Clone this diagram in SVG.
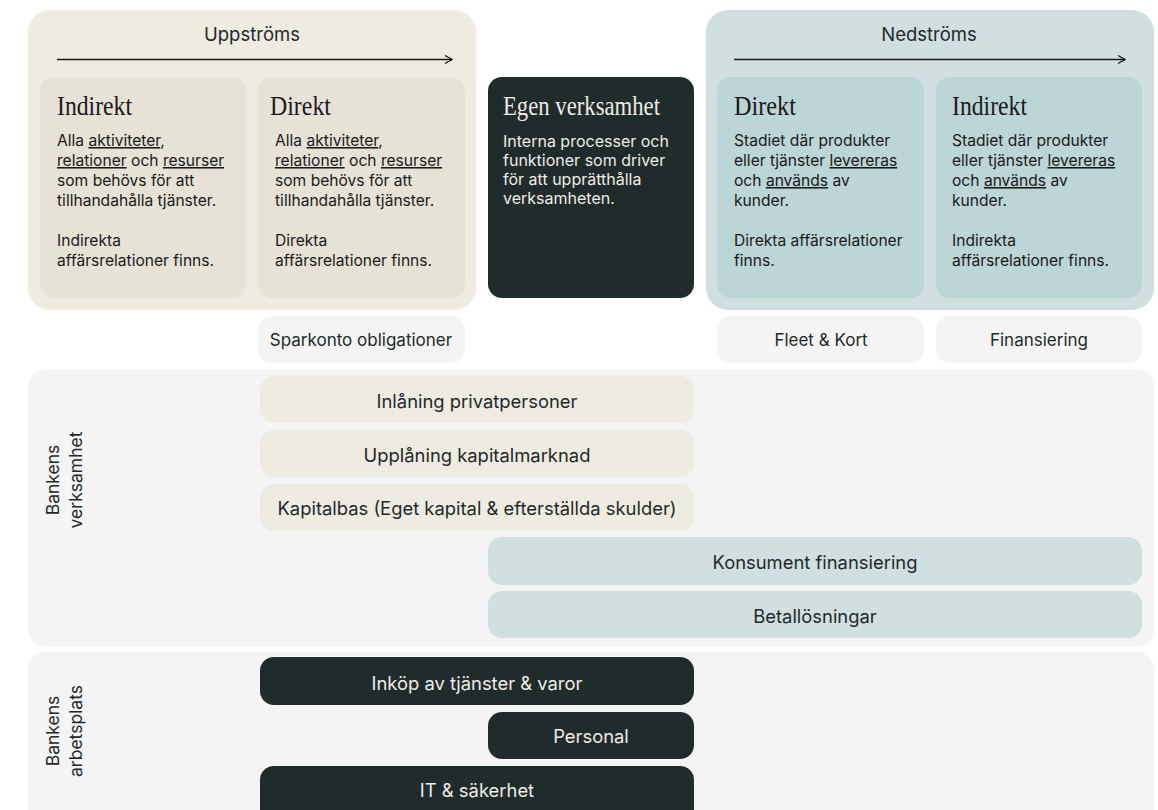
<svg xmlns="http://www.w3.org/2000/svg" width="1158" height="810" viewBox="0 0 1158 810">
<defs>
<style>
.sans{font-family:Inter,"Liberation Sans",sans-serif;}
.serif{font-family:"Liberation Serif","DejaVu Serif",serif;}
.head{font-size:27px;fill:#1a1a1a;}
.body{font-size:15.6px;fill:#1a1a1a;}
.u{text-decoration:underline;}
.lbl{font-size:18.5px;fill:#1f2a2a;text-anchor:middle;}
.vl{font-size:17.5px;fill:#1f2a2a;text-anchor:middle;}
.pill{font-size:18.4px;fill:#1f2a2a;text-anchor:middle;}
.sp{font-size:17px;fill:#1f2a2a;text-anchor:middle;}
.dark{fill:#202b2b;}
.up{fill:#eeebe1;}
.upc{fill:#e6e3d6;}
.dn{fill:#d0e0e0;}
.dnc{fill:#bcd5d6;}
.grey{fill:#f4f4f4;}
.arrow{stroke:#1a1a1a;stroke-width:1.3;fill:none;}
</style>
<marker id="ah" viewBox="0 0 10 10" refX="9" refY="5" markerWidth="10" markerHeight="10" markerUnits="userSpaceOnUse" orient="auto">
<path d="M2,1 L9,5 L2,9" fill="none" stroke="#1a1a1a" stroke-width="1.3"/>
</marker>
</defs>
<rect width="1158" height="810" fill="#ffffff"/>

<g id="uppstroms">
<rect class="up" x="28" y="10" width="448" height="300" rx="22"/>
<text class="sans lbl" x="252" y="41">Uppströms</text>
</g>
<g id="nedstroms">
<rect class="dn" x="706" y="10" width="448" height="300" rx="22"/>
<text class="sans lbl" x="929" y="41">Nedströms</text>
</g>

<g id="connectors">
<line class="arrow" x1="57" y1="59.5" x2="452" y2="59.5" marker-end="url(#ah)"/>
<line class="arrow" x1="734" y1="59.5" x2="1125" y2="59.5" marker-end="url(#ah)"/>
</g>

<g id="up-indirekt">
<rect class="upc" x="40" y="77" width="206" height="221" rx="14"/>
<text class="serif head" x="57" y="115" textLength="75" lengthAdjust="spacingAndGlyphs">Indirekt</text>
<text class="sans body">
<tspan x="57" y="146">Alla <tspan class="u">aktiviteter</tspan>,</tspan>
<tspan x="57" y="166"><tspan class="u">relationer</tspan> och <tspan class="u">resurser</tspan></tspan>
<tspan x="57" y="186">som behövs för att</tspan>
<tspan x="57" y="206">tillhandahålla tjänster.</tspan>
<tspan x="57" y="246">Indirekta</tspan>
<tspan x="57" y="266">affärsrelationer finns.</tspan>
</text>
</g>

<g id="up-direkt">
<rect class="upc" x="258" y="77" width="207" height="221" rx="14"/>
<text class="serif head" x="270" y="115" textLength="61" lengthAdjust="spacingAndGlyphs">Direkt</text>
<text class="sans body">
<tspan x="275" y="146">Alla <tspan class="u">aktiviteter</tspan>,</tspan>
<tspan x="275" y="166"><tspan class="u">relationer</tspan> och <tspan class="u">resurser</tspan></tspan>
<tspan x="275" y="186">som behövs för att</tspan>
<tspan x="275" y="206">tillhandahålla tjänster.</tspan>
<tspan x="275" y="246">Direkta</tspan>
<tspan x="275" y="266">affärsrelationer finns.</tspan>
</text>
</g>

<g id="egen-verksamhet">
<rect class="dark" x="488" y="77" width="206" height="221" rx="14"/>
<text class="serif head" x="503" y="115" textLength="157" lengthAdjust="spacingAndGlyphs" style="fill:#eeece6">Egen verksamhet</text>
<text class="sans body" style="fill:#eeece6;font-size:16px">
<tspan x="503" y="147">Interna processer och</tspan>
<tspan x="503" y="166">funktioner som driver</tspan>
<tspan x="503" y="185">för att upprätthålla</tspan>
<tspan x="503" y="204">verksamheten.</tspan>
</text>
</g>

<g id="ned-direkt">
<rect class="dnc" x="717" y="77" width="207" height="221" rx="14"/>
<text class="serif head" x="734" y="115" textLength="62" lengthAdjust="spacingAndGlyphs">Direkt</text>
<text class="sans body">
<tspan x="734" y="146">Stadiet där produkter</tspan>
<tspan x="734" y="166">eller tjänster <tspan class="u">levereras</tspan></tspan>
<tspan x="734" y="186">och <tspan class="u">används</tspan> av</tspan>
<tspan x="734" y="206">kunder.</tspan>
<tspan x="734" y="246">Direkta affärsrelationer</tspan>
<tspan x="734" y="266">finns.</tspan>
</text>
</g>

<g id="ned-indirekt">
<rect class="dnc" x="936" y="77" width="206" height="221" rx="14"/>
<text class="serif head" x="952" y="115" textLength="75" lengthAdjust="spacingAndGlyphs">Indirekt</text>
<text class="sans body">
<tspan x="952" y="146">Stadiet där produkter</tspan>
<tspan x="952" y="166">eller tjänster <tspan class="u">levereras</tspan></tspan>
<tspan x="952" y="186">och <tspan class="u">används</tspan> av</tspan>
<tspan x="952" y="206">kunder.</tspan>
<tspan x="952" y="246">Indirekta</tspan>
<tspan x="952" y="266">affärsrelationer finns.</tspan>
</text>
</g>

<g id="sparkonto">
<rect class="grey" x="258" y="316" width="207" height="47" rx="14"/>
<text class="sans sp" x="361" y="346">Sparkonto obligationer</text>
</g>
<g id="fleet">
<rect class="grey" x="717" y="316" width="207" height="47" rx="14"/>
<text class="sans sp" x="821" y="346">Fleet &amp; Kort</text>
</g>
<g id="finansiering">
<rect class="grey" x="936" y="316" width="206" height="47" rx="14"/>
<text class="sans sp" x="1039" y="346">Finansiering</text>
</g>

<g id="bankens-verksamhet">
<rect class="grey" x="28" y="370" width="1126" height="276" rx="16"/>
<text class="sans vl" transform="translate(59,480) rotate(-90)">Bankens</text>
<text class="sans vl" transform="translate(82,480) rotate(-90)">verksamhet</text>
</g>
<g id="inlaning">
<rect class="up" x="260" y="376" width="434" height="47" rx="14"/>
<text class="sans pill" x="477" y="408">Inlåning privatpersoner</text>
</g>
<g id="upplaning">
<rect class="up" x="260" y="430" width="434" height="47" rx="14"/>
<text class="sans pill" x="477" y="462">Upplåning kapitalmarknad</text>
</g>
<g id="kapitalbas">
<rect class="up" x="260" y="484" width="434" height="47" rx="14"/>
<text class="sans pill" x="477" y="515">Kapitalbas (Eget kapital &amp; efterställda skulder)</text>
</g>
<g id="konsument">
<rect class="dn" x="488" y="537" width="654" height="48" rx="14"/>
<text class="sans pill" x="815" y="569">Konsument finansiering</text>
</g>
<g id="betallosningar">
<rect class="dn" x="488" y="591" width="654" height="47" rx="14"/>
<text class="sans pill" x="815" y="623">Betallösningar</text>
</g>

<g id="bankens-arbetsplats">
<rect class="grey" x="28" y="652" width="1126" height="180" rx="16"/>
<text class="sans vl" transform="translate(59,731) rotate(-90)">Bankens</text>
<text class="sans vl" transform="translate(82,731) rotate(-90)">arbetsplats</text>
</g>
<g id="inkop">
<rect class="dark" x="260" y="657" width="434" height="48" rx="14"/>
<text class="sans pill" x="477" y="690" style="fill:#eeece6">Inköp av tjänster &amp; varor</text>
</g>
<g id="personal">
<rect class="dark" x="488" y="712" width="206" height="47" rx="14"/>
<text class="sans pill" x="591" y="743" style="fill:#eeece6">Personal</text>
</g>
<g id="it">
<rect class="dark" x="260" y="766" width="434" height="60" rx="14"/>
<text class="sans pill" x="477" y="797" style="fill:#eeece6">IT &amp; säkerhet</text>
</g>
</svg>
